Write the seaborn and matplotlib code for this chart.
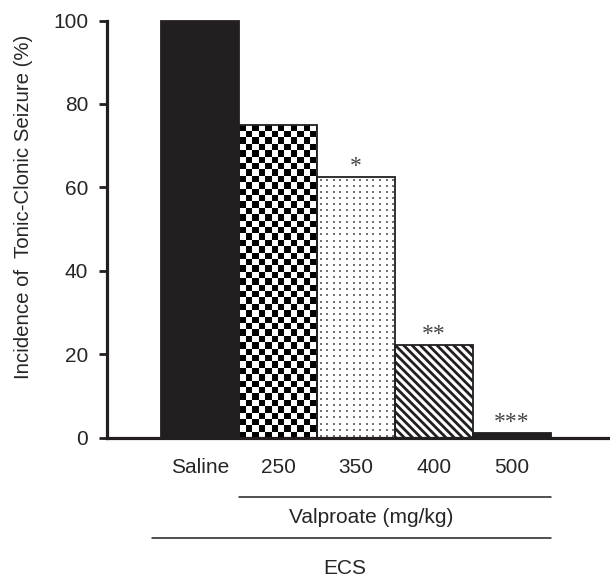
import numpy as np
import pandas as pd
import matplotlib
matplotlib.use("Agg")
import matplotlib.pyplot as plt
import seaborn as sns

# values
groups = ["Saline", "250", "350", "400", "500"]
incidence = [100, 75, 62.5, 22.2, 1.1]
stars = ["", "", "*", "**", "***"]
bar_colors = ["#231f20", "white", "white", "white", "#231f20"]

sns.set_style("ticks")
plt.rcParams["font.family"] = ["Liberation Sans", "DejaVu Sans"]
plt.rcParams["hatch.linewidth"] = 2.0
plt.rcParams["hatch.color"] = "#231f20"


# Build a pixel-resolution texture for a bar (checkerboard or dot grid).
def texture(kind, w_px, h_px):
    rows, cols = np.mgrid[0:h_px, 0:w_px]
    if kind == "checker":
        return ((rows // 6.4 + cols // 6.4) % 2).astype(float)
    img = np.ones((h_px, w_px))
    for r in np.arange(3, h_px - 1, 6.1).astype(int):
        for c in np.arange(3, w_px - 1, 6.6).astype(int):
            img[r:r + 2, c:c + 2] = 0.45
    return img


df = pd.DataFrame({"group": groups, "incidence": incidence})

fig = plt.figure(figsize=(6.1, 5.78), dpi=100)
ax = fig.add_axes([107 / 610, 1 - 437.5 / 578, 503 / 610, 417 / 578])

sns.barplot(data=df, x="group", y="incidence", hue="group", palette=bar_colors,
            width=1.0, edgecolor="#231f20", linewidth=1.3, legend=False,
            saturation=1, ax=ax)

ax.set_xlim(-1.192, 5.257)
ax.set_ylim(0, 100)
ax.set_yticks([0, 20, 40, 60, 80, 100])

bars = sorted(ax.patches, key=lambda p: p.get_x())
for i, bar in enumerate(bars):
    bar.set_clip_on(False)
    x0, w, h = bar.get_x(), bar.get_width(), bar.get_height()
    (px0, py0), (px1, py1) = ax.transData.transform([[x0, 0], [x0 + w, h]])
    w_px, h_px = int(round(px1 - px0)), int(round(py1 - py0))
    if i in (1, 2):
        kind = "checker" if i == 1 else "dots"
        im = ax.imshow(texture(kind, w_px, h_px), cmap="gray", vmin=0, vmax=1,
                       extent=(x0, x0 + w, 0, h), aspect="auto",
                       interpolation="nearest", zorder=0.9)
        im.set_clip_path(bar)
        bar.set_facecolor("none")
        bar.set_zorder(1.5)
    elif i == 3:
        bar.set_hatch("\\\\\\\\")
    if stars[i]:
        ax.annotate(stars[i], xy=(x0 + w / 2, h), xytext=(0, 0),
                    textcoords="offset points", ha="center", va="bottom",
                    fontsize=17, family="Liberation Serif", color="#444444")

ax.set_xlim(-1.192, 5.257)
ax.set_ylim(0, 100)

sns.despine(ax=ax)
for side in ("left", "bottom"):
    ax.spines[side].set_linewidth(2.3)
    ax.spines[side].set_color("#231f20")

ax.tick_params(axis="y", length=5.5, width=2, color="#231f20", pad=8, labelsize=15)
ax.tick_params(axis="x", length=0, pad=14.5, labelsize=15)
ax.set_xlabel("")
ax.set_ylabel("Incidence of  Tonic-Clonic Seizure (%)", fontsize=14.7)
ax.yaxis.set_label_coords(-0.147, 0.553)

# group brackets under the tick labels
trans = ax.get_xaxis_transform()
left_val = bars[1].get_x()
right_all = bars[4].get_x() + bars[4].get_width()
ax.plot([left_val, right_all], [-0.1427, -0.1427], transform=trans,
        color="#231f20", lw=1.1, clip_on=False)
ax.plot([bars[0].get_x() - 0.115, right_all], [-0.241, -0.241], transform=trans,
        color="#231f20", lw=1.1, clip_on=False)
ax.text(2.19, -0.191, "Valproate (mg/kg)", transform=trans, ha="center",
        va="center", fontsize=15)
ax.text(1.85, -0.313, "ECS", transform=trans, ha="center", va="center",
        fontsize=15)

fig.savefig("out.png", dpi=100)
